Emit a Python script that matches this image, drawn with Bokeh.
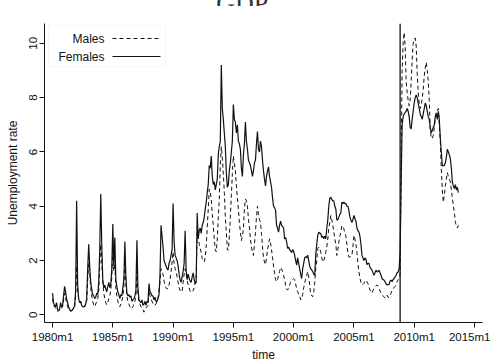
from bokeh.plotting import figure
from bokeh.layouts import column
from bokeh.models import Range1d, FixedTicker, Span, Label, BoxAnnotation, Arrow, Div
from bokeh.embed import file_html
from bokeh.resources import INLINE

# ---- data: monthly unemployment rate, first value = 1980m1 ----
first_year = 1980
females = [
    0.8, 0.45, 0.35, 0.3, 0.45, 0.2, 0.15, 0.2, 0.45, 0.3, 0.35, 0.7,        # 1980
    1.05, 0.85, 0.6, 0.45, 0.3, 0.2, 0.15, 0.15, 0.2, 0.25, 0.35, 0.9,       # 1981
    4.2, 1.1, 0.6, 0.45, 0.5, 0.35, 0.3, 0.3, 0.3, 0.4, 0.6, 1.7,            # 1982
    2.6, 1.8, 1.2, 0.95, 0.75, 0.7, 0.6, 0.65, 0.8, 0.75, 1.2, 2.4,          # 1983
    4.45, 2.6, 1.3, 1.0, 1.1, 0.95, 0.85, 1.05, 1.2, 1.0, 1.15, 1.7,         # 1984
    3.35, 1.8, 2.85, 1.3, 1.05, 0.85, 0.75, 0.6, 0.75, 0.7, 1.0, 1.3,        # 1985
    2.7, 1.4, 0.8, 0.7, 0.75, 0.65, 0.7, 0.5, 0.55, 0.6, 0.7, 0.9,           # 1986
    2.75, 1.0, 0.55, 0.5, 0.45, 0.55, 0.35, 0.4, 0.5, 0.35, 0.5, 0.45,       # 1987
    1.15, 0.85, 0.8, 0.7, 0.7, 0.55, 0.65, 0.5, 0.5, 0.6, 0.75, 1.5,         # 1988
    3.3, 2.9, 2.5, 2.0, 1.9, 1.8, 1.7, 1.65, 1.9, 2.0, 2.2, 2.4,             # 1989
    4.1, 2.7, 2.2, 2.1, 2.0, 1.8, 1.5, 1.3, 1.2, 1.4, 1.6, 1.9,              # 1990
    3.1, 1.65, 1.3, 1.5, 1.35, 1.25, 1.2, 1.4, 1.55, 1.3, 1.15, 1.2,         # 1991
    3.75, 2.8, 3.1, 3.2, 3.0, 3.3, 3.4, 3.6, 3.9, 4.15, 4.5, 4.8,            # 1992
    5.5, 5.4, 5.85, 5.1, 4.8, 4.9, 4.6, 4.8, 5.0, 5.9, 6.2, 6.4,             # 1993
    9.2, 7.6, 7.2, 6.7, 6.2, 5.25, 4.7, 4.8, 5.3, 5.6, 6.0, 6.4,             # 1994
    7.75, 7.2, 7.1, 6.7, 7.0, 6.4, 6.3, 6.1, 5.4, 5.1, 5.9, 6.3,             # 1995
    7.1, 6.4, 6.1, 5.7, 5.6, 5.5, 5.3, 5.1, 5.3, 5.6, 5.7, 6.3,              # 1996
    6.75, 6.1, 6.0, 6.4, 6.2, 5.7, 5.3, 5.0, 4.75, 5.1, 5.3, 5.45,           # 1997
    5.1, 4.9, 4.7, 4.3, 4.0, 3.95, 3.85, 3.3, 3.2, 3.05, 3.3, 3.45,          # 1998
    3.3, 3.25, 3.2, 2.8, 2.85, 2.7, 2.45, 2.5, 2.4, 2.35, 2.3, 2.4,          # 1999
    2.35, 2.2, 2.0, 1.83, 2.1, 1.9, 1.7, 1.5, 1.34, 1.7, 1.9, 2.1,           # 2000
    2.15, 2.1, 2.2, 2.0, 1.8, 1.7, 1.65, 1.6, 1.5, 1.46, 2.2, 2.6,           # 2001
    2.93, 3.05, 3.0, 3.0, 2.85, 2.9, 2.8, 2.9, 2.8, 3.2, 3.5, 4.0,           # 2002
    4.3, 4.33, 4.25, 4.2, 4.2, 4.0, 3.9, 3.5, 3.5, 3.6, 3.7, 3.75,           # 2003
    4.15, 4.1, 4.15, 4.1, 4.1, 4.0, 4.0, 3.85, 3.6, 3.49, 3.4, 3.5,          # 2004
    3.66, 3.55, 3.45, 3.2, 3.1, 3.05, 2.9, 2.6, 2.19, 2.1, 2.0, 2.1,         # 2005
    2.05, 1.85, 1.9, 1.9, 1.75, 1.7, 1.65, 1.55, 1.46, 1.55, 1.65, 1.58,     # 2006
    1.6, 1.65, 1.55, 1.46, 1.34, 1.3, 1.28, 1.22, 1.15, 1.1, 1.12, 1.12,     # 2007
    1.25, 1.28, 1.22, 1.3, 1.34, 1.4, 1.46, 1.55, 1.58, 1.7, 2.3, 4.8,       # 2008
    7.0, 7.3, 7.4, 7.45, 7.5, 7.6, 7.5, 7.3, 6.9, 6.85, 7.2, 7.5,            # 2009
    7.8, 8.0, 8.1, 8.0, 7.8, 7.6, 7.4, 7.3, 7.2, 7.4, 7.6, 7.8,              # 2010
    7.7, 7.5, 7.3, 7.2, 6.9, 6.7, 6.8, 6.9, 7.0, 7.3, 7.44, 7.2,             # 2011
    7.5, 7.2, 6.5, 6.0, 5.48, 5.5, 5.5, 5.6, 5.8, 6.1, 6.0, 5.9,             # 2012
    5.75, 5.4, 4.88, 4.75, 4.65, 4.8, 4.6, 4.7, 4.5,                         # 2013
]
males = [
    0.6, 0.35, 0.3, 0.25, 0.2, 0.12, 0.15, 0.2, 0.3, 0.25, 0.3, 0.55,        # 1980
    0.8, 0.6, 0.45, 0.3, 0.2, 0.18, 0.15, 0.15, 0.2, 0.2, 0.3, 0.7,          # 1981
    1.8, 0.9, 0.6, 0.47, 0.5, 0.35, 0.3, 0.3, 0.35, 0.4, 0.5, 1.3,           # 1982
    1.9, 1.5, 1.0, 0.7, 0.5, 0.37, 0.3, 0.4, 0.5, 0.6, 0.9, 1.8,             # 1983
    2.6, 2.0, 1.2, 0.8, 0.6, 0.45, 0.37, 0.45, 0.6, 0.7, 0.9, 1.4,           # 1984
    2.4, 1.6, 1.9, 1.0, 0.7, 0.5, 0.35, 0.3, 0.4, 0.5, 0.7, 1.0,             # 1985
    2.0, 1.2, 0.7, 0.5, 0.4, 0.3, 0.22, 0.25, 0.3, 0.4, 0.5, 0.7,            # 1986
    1.6, 0.8, 0.5, 0.4, 0.3, 0.25, 0.2, 0.1, 0.2, 0.25, 0.3, 0.35,           # 1987
    0.9, 0.7, 0.6, 0.5, 0.4, 0.35, 0.37, 0.4, 0.5, 0.6, 0.91, 1.2,           # 1988
    1.7, 1.6, 1.5, 1.24, 1.1, 1.0, 0.95, 0.98, 1.1, 1.3, 1.6, 1.95,          # 1989
    2.32, 1.9, 1.7, 1.6, 1.4, 1.2, 1.0, 0.9, 0.85, 0.85, 1.2, 1.5,           # 1990
    1.7, 1.5, 1.3, 1.1, 1.0, 0.86, 0.9, 0.86, 0.9, 1.0, 1.2, 1.4,            # 1991
    3.05, 2.9, 2.6, 2.44, 2.3, 2.07, 2.0, 1.95, 2.1, 2.56, 3.2, 3.9,         # 1992
    4.63, 4.5, 4.27, 3.7, 3.29, 2.8, 2.4, 2.32, 2.8, 3.6, 4.27, 5.5,         # 1993
    6.2, 5.8, 5.2, 4.51, 3.6, 3.05, 2.4, 2.38, 2.9, 3.6, 4.39, 5.2,          # 1994
    5.85, 5.6, 5.3, 4.75, 4.3, 3.9, 3.4, 3.05, 2.74, 2.9, 3.17, 3.9,         # 1995
    4.27, 4.2, 4.0, 3.54, 3.2, 2.8, 2.5, 2.32, 2.19, 2.6, 3.05, 3.6,         # 1996
    4.0, 3.7, 3.5, 3.41, 3.0, 2.5, 2.1, 1.95, 1.85, 2.1, 2.4, 2.6,           # 1997
    2.8, 2.65, 2.4, 2.1, 1.8, 1.55, 1.3, 1.22, 1.3, 1.45, 1.6, 1.75,         # 1998
    1.7, 1.6, 1.45, 1.3, 1.1, 0.95, 0.91, 1.0, 1.1, 1.2, 1.25, 1.3,          # 1999
    1.34, 1.3, 1.15, 0.95, 0.85, 0.75, 0.7, 0.55, 0.6, 0.75, 1.0, 1.15,      # 2000
    1.34, 1.45, 1.59, 1.4, 1.1, 0.75, 0.7, 0.67, 0.85, 1.2, 1.7, 2.0,        # 2001
    2.44, 2.5, 2.44, 2.3, 2.1, 1.95, 2.0, 2.15, 2.3, 2.5, 2.8, 3.2,          # 2002
    3.41, 3.66, 3.5, 3.3, 3.05, 2.8, 2.6, 2.19, 2.4, 2.68, 2.9, 3.05,        # 2003
    3.29, 3.25, 3.17, 3.0, 2.9, 2.6, 2.3, 2.13, 2.13, 2.15, 2.2, 2.5,        # 2004
    2.93, 2.8, 2.6, 2.3, 1.9, 1.59, 1.35, 1.2, 1.1, 1.12, 1.16, 1.25,        # 2005
    1.28, 1.22, 1.15, 1.04, 0.92, 0.86, 0.8, 0.9, 0.98, 1.04, 1.08, 1.1,     # 2006
    1.06, 1.0, 0.88, 0.8, 0.73, 0.7, 0.67, 0.62, 0.65, 0.73, 0.64, 0.65,     # 2007
    0.72, 0.8, 0.91, 0.98, 1.0, 1.04, 1.1, 1.22, 1.3, 1.34, 1.5, 5.5,        # 2008
    9.0, 10.0, 10.4, 9.9, 8.6, 8.2, 7.9, 7.7, 7.9, 8.6, 9.4, 10.0,           # 2009
    10.1, 10.2, 9.9, 8.9, 8.2, 7.8, 7.6, 7.7, 8.0, 8.3, 8.8, 9.1,            # 2010
    9.3, 9.0, 8.6, 7.9, 6.8, 6.5, 6.5, 6.6, 6.9, 7.2, 7.4, 7.5,              # 2011
    7.6, 7.0, 6.4, 5.4, 4.6, 4.15, 4.4, 4.75, 5.0, 5.24, 5.1, 5.0,           # 2012
    4.9, 4.6, 4.3, 4.0, 3.78, 3.4, 3.29, 3.2, 3.3,                           # 2013
]
crash_year, crash_month = 2008, 11          # vertical line (xline)
x_tick_years = [1980, 1985, 1990, 1995, 2000, 2005, 2010, 2015]
x_tick_labels = ["1980m1", "1985m1", "1990m1", "1995m1", "2000m1", "2005m1", "2010m1", "2015m1"]
y_ticks = [0, 2, 4, 6, 8, 10]
series_names = ["Males", "Females"]
heading = "GDP."


def month_index(year, month):
    return (year - first_year) * 12 + (month - 1)


x_f = list(range(len(females)))
x_m = list(range(len(males)))

FONT = "Liberation Sans"
STRIP_H = 6   # visible strip of the clipped page heading above the chart

# ---- strip showing only the bottom of the page heading (cut off as in the reference) ----
strip = Div(
    text=('<div style="font-family:\'Liberation Serif\',serif;font-weight:normal;'
          'font-size:26px;line-height:26px;margin-top:-19px;text-align:center;'
          'color:#333;width:488px;">%s</div>' % heading),
    width=490, height=STRIP_H,
    styles={"overflow": "hidden", "margin": "0", "padding": "0"})

# ---- main chart ----
p = figure(width=490, height=364 - STRIP_H, output_backend="svg", toolbar_location=None,
           x_range=Range1d(-8, 428), y_range=Range1d(-0.28, 10.73),
           min_border_left=44, min_border_right=8, min_border_top=23 - STRIP_H,
           min_border_bottom=40)
p.outline_line_color = None
p.grid.visible = False
p.background_fill_color = "white"
p.border_fill_color = "white"

p.line(x_m, males, line_color="#111111", line_width=1.0, line_dash="4 3")
p.line(x_f, females, line_color="#111111", line_width=1.2)

p.add_layout(Span(location=month_index(crash_year, crash_month), dimension="height",
                  line_color="#111111", line_width=1.3))

tick_pos = [month_index(y, 1) for y in x_tick_years]
p.xaxis.ticker = FixedTicker(ticks=tick_pos)
p.xaxis.major_label_overrides = {t: lab for t, lab in zip(tick_pos, x_tick_labels)}
p.yaxis.ticker = FixedTicker(ticks=y_ticks)
p.yaxis.major_label_orientation = "vertical"

for ax in (p.xaxis[0], p.yaxis[0]):
    ax.minor_tick_line_color = None
    ax.major_tick_in = 0
    ax.major_tick_out = 5
    ax.axis_line_color = "#111111"
    ax.major_tick_line_color = "#111111"
    ax.major_label_text_font = FONT
    ax.major_label_text_font_size = "11.5px"
    ax.major_label_text_color = "#111111"
    ax.axis_label_text_font = FONT
    ax.axis_label_text_font_size = "12px"
    ax.axis_label_text_font_style = "normal"
    ax.axis_label_text_color = "#111111"

p.xaxis.axis_label = "time"
p.yaxis.axis_label = "Unemployment rate"
p.xaxis.major_label_standoff = 3
p.xaxis.axis_label_standoff = 2
p.yaxis.major_label_standoff = 2
p.yaxis.axis_label_standoff = 7

# legend (label first, then line key) in frame-relative screen units
p.add_layout(BoxAnnotation(left=4, right=121, top=297, bottom=256,
                           left_units="screen", right_units="screen",
                           top_units="screen", bottom_units="screen",
                           fill_color="white", fill_alpha=1.0,
                           line_color="#dfe8ee", line_width=1))
rows = [(284, "4 3"), (266, "solid")]
for (sy, dash), name in zip(rows, series_names):
    p.add_layout(Label(x=60, y=sy, x_units="screen", y_units="screen", text=name,
                       text_align="right", text_baseline="middle",
                       text_font=FONT, text_font_size="12px", text_color="#111111"))
    p.add_layout(Arrow(end=None, start=None, x_start=68, y_start=sy, x_end=116, y_end=sy,
                       start_units="screen", end_units="screen",
                       line_color="#111111", line_width=1.0 if dash != "solid" else 1.2,
                       line_dash=dash))

layout = column(strip, p, spacing=0)
open("out.html", "w").write(file_html(layout, INLINE))
